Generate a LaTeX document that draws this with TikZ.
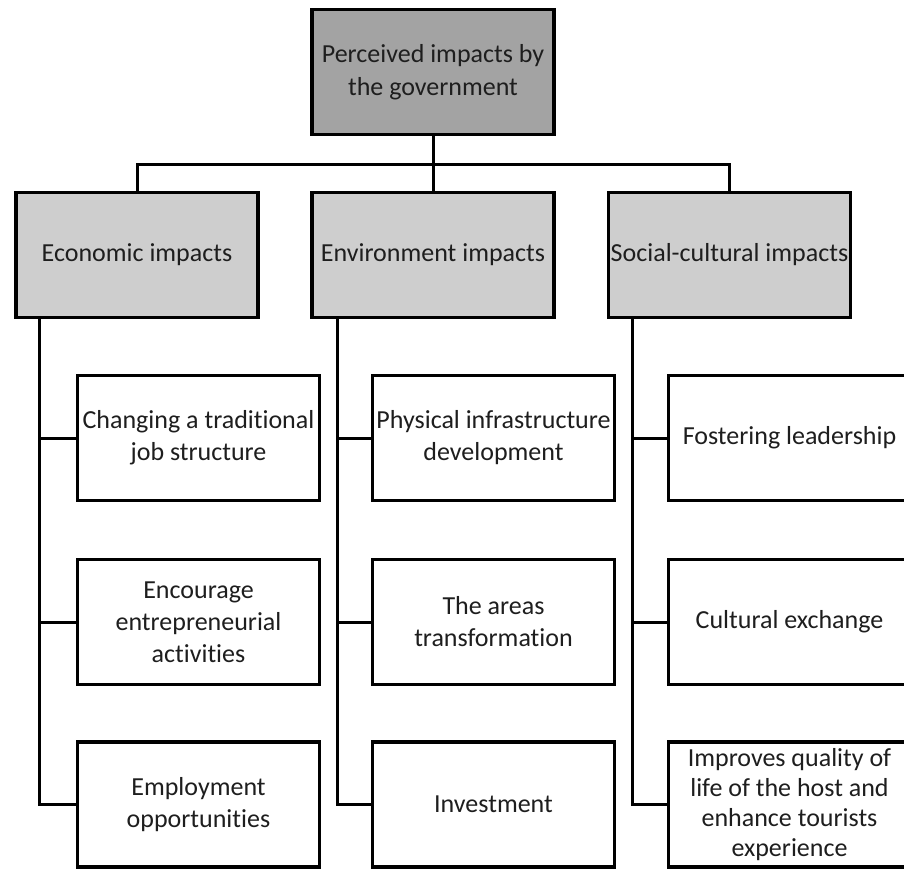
\documentclass[tikz,border=0pt]{standalone}
\usepackage{fontspec}
\setmainfont[Ligatures=NoCommon]{Carlito}
\definecolor{topgray}{RGB}{163,163,163}
\definecolor{catgray}{RGB}{206,206,206}
\definecolor{inkc}{RGB}{30,30,30}
\begin{document}
\begin{tikzpicture}[x=1pt,y=-1pt,
  box/.style={draw=black, line width=3.8pt, minimum width=242pt, minimum height=125pt,
    align=center, inner sep=1pt, text=inkc,
    font=\fontsize{26}{32}\selectfont},
  headbox/.style={box, fill=topgray, font=\fontsize{26}{33}\selectfont},
  catbox/.style={box, fill=catgray},
  itembox/.style={box, fill=white},
  link/.style={draw=black, line width=3pt}]
\clip (0,0) rectangle (904,868);
\fill[white] (0,0) rectangle (904,868);

% root
\node[headbox] (root) at (433,72) {Perceived impacts by\\the government};

% categories
\node[catbox] (econ) at (137,255) {Economic impacts};
\node[catbox] (envi) at (433,255) {Environment impacts};
\node[catbox] (soc)  at (729.5,255) {Social-cultural impacts};

% economic items
\node[itembox] (e1) at (198.5,438) {Changing a traditional\\job structure};
\node[itembox] (e2) at (198.5,622) {Encourage\\entrepreneurial\\activities};
\node[itembox] (e3) at (198.5,804.5) {Employment\\opportunities};

% environment items
\node[itembox] (v1) at (493.5,438) {Physical infrastructure\\development};
\node[itembox] (v2) at (493.5,622) {The areas\\transformation};
\node[itembox] (v3) at (493.5,804.5) {Investment};

% social-cultural items
\node[itembox] (s1) at (789.5,438) {Fostering leadership};
\node[itembox] (s2) at (789.5,622) {Cultural exchange};
\node[itembox,font=\fontsize{26}{30}\selectfont] (s3) at (789.5,804.5) {Improves quality of\\life of the host and\\enhance tourists\\experience};

% tree from root to categories
\coordinate (bus) at (433,164);
\draw[link] (root.south) -- (bus);
\draw[link] (bus) -| (econ.north);
\draw[link] (bus) -| (soc.north);
\draw[link] (bus) -- (envi.north);

% spines under each category
\coordinate (es) at (39,319);
\coordinate (vs) at (337,319);
\coordinate (ss) at (632,319);
\foreach \s/\a/\b/\c in {es/e1/e2/e3, vs/v1/v2/v3, ss/s1/s2/s3}{
  \draw[link, line join=miter] (\s) |- (\c.west);
  \draw[link] (\s |- \a.west) -- (\a.west);
  \draw[link] (\s |- \b.west) -- (\b.west);
}
\end{tikzpicture}
\end{document}
